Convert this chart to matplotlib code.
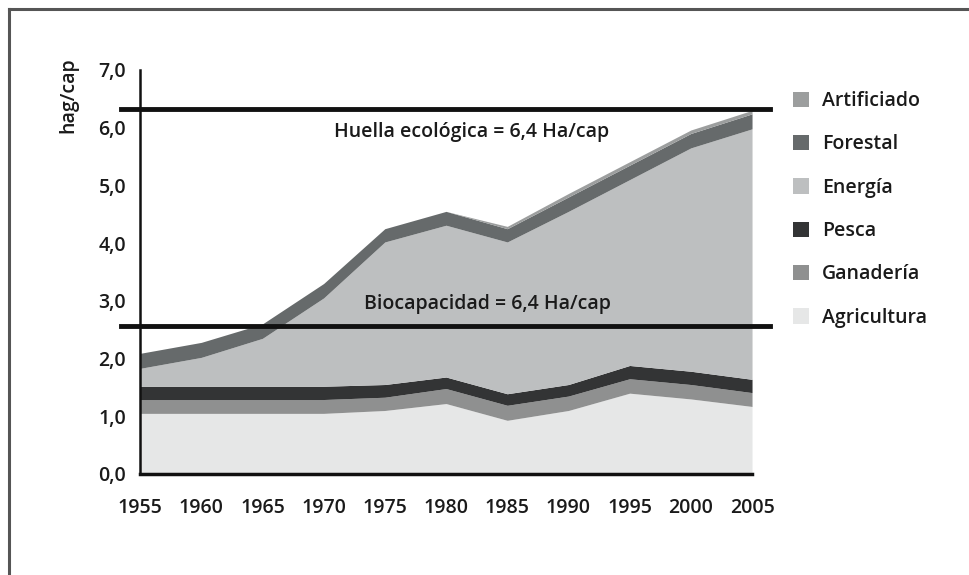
import numpy as np
from matplotlib import pyplot as plt
from matplotlib.lines import Line2D
from matplotlib.patches import Patch

plt.rcParams['font.family'] = ['Open Sans', 'DejaVu Sans']

years = [1955, 1960, 1965, 1970, 1975, 1980, 1985, 1990, 1995, 2000, 2005]

# cumulative top edges (hag/cap)
agricultura_top = [1.05, 1.05, 1.05, 1.05, 1.10, 1.22, 0.93, 1.10, 1.40, 1.30, 1.17]
ganaderia_top = [1.29, 1.29, 1.29, 1.29, 1.33, 1.48, 1.19, 1.35, 1.65, 1.55, 1.41]
pesca_top = [1.52, 1.52, 1.52, 1.52, 1.55, 1.68, 1.39, 1.55, 1.88, 1.78, 1.64]
energia_top = [1.83, 2.02, 2.35, 3.05, 4.02, 4.31, 4.02, 4.55, 5.10, 5.65, 5.98]
forestal_top = [2.09, 2.28, 2.60, 3.30, 4.25, 4.55, 4.25, 4.80, 5.35, 5.90, 6.24]
artificiado_top = [2.09, 2.28, 2.60, 3.30, 4.25, 4.55, 4.29, 4.86, 5.41, 5.96, 6.30]

huella = 6.33
biocapacidad = 2.56

series = ["Agricultura", "Ganadería", "Pesca", "Energía", "Forestal", "Artificiado"]
tops = [agricultura_top, ganaderia_top, pesca_top, energia_top, forestal_top, artificiado_top]
colors = ["#e6e7e7", "#8f9090", "#333435", "#bdbfc0", "#666a6b", "#9c9e9e"]

ytick_labels = ["0,0", "1,0", "2,0", "3,0", "4,0", "5,0", "6,0", "7,0"]

FS = 14
TXT = "#1a1a1a"


def main():
    fig = plt.figure(figsize=(9.69, 5.75), dpi=100)
    ax = fig.add_axes([0.1445, 0.1757, 0.6316, 0.7026])

    x = np.array(years)
    bottom = np.zeros(len(years))
    for name, top, c in zip(series, tops, colors):
        top = np.array(top)
        ax.fill_between(x, bottom, top, color=c, linewidth=0)
        bottom = top

    ax.set_xlim(1955, 2005)
    ax.set_ylim(0, 7)
    ax.set_xticks(years)
    ax.set_xticklabels([str(y) for y in years], fontsize=FS, color=TXT,
                       fontweight="semibold")
    ax.set_yticks(range(8))
    ax.set_yticklabels(ytick_labels, fontsize=FS, color=TXT, fontweight="semibold")
    ax.tick_params(length=0, pad=10)
    ax.tick_params(axis="x", pad=17)

    for s in ["top", "right"]:
        ax.spines[s].set_visible(False)
    ax.spines["left"].set_linewidth(1.8)
    ax.spines["bottom"].set_linewidth(2.5)
    ax.spines["left"].set_color("#111111")
    ax.spines["bottom"].set_color("#111111")

    # reference lines go a bit past the axes
    for val in (huella, biocapacidad):
        ax.axhline(val, xmin=-0.031, xmax=1.029, color="#111111",
                   linewidth=3.5, clip_on=False, zorder=5)

    ax.text(0.542, 0.847, "Huella ecológica = 6,4 Ha/cap", transform=ax.transAxes,
            ha="center", va="center", fontsize=FS, color=TXT, fontweight="semibold")
    ax.text(0.567, 0.42, "Biocapacidad = 6,4 Ha/cap", transform=ax.transAxes,
            ha="center", va="center", fontsize=FS, color=TXT, fontweight="semibold")

    fig.text(0.071, 0.835, "hag/cap", rotation=90, ha="center", va="center",
             fontsize=FS, color=TXT, fontweight="semibold")

    handles = [Patch(facecolor=c, edgecolor="none") for c in colors]
    leg = fig.legend(handles[::-1], series[::-1], loc="upper left",
                     bbox_to_anchor=(0.8, 0.872), frameon=False,
                     prop={"size": FS, "weight": "semibold"},
                     handlelength=0.85, handleheight=0.85, handletextpad=0.65,
                     labelspacing=1.2)
    for t in leg.get_texts():
        t.set_color(TXT)

    # frame on the left and top of the picture
    fig.add_artist(Line2D([0.0093, 0.0093], [0.0, 0.984], color="#555555",
                          linewidth=2.2, transform=fig.transFigure))
    fig.add_artist(Line2D([0.0093, 1.0], [0.984, 0.984], color="#555555",
                          linewidth=2.2, transform=fig.transFigure))

    plt.savefig("out.png", dpi=100)


if __name__ == "__main__":
    main()
